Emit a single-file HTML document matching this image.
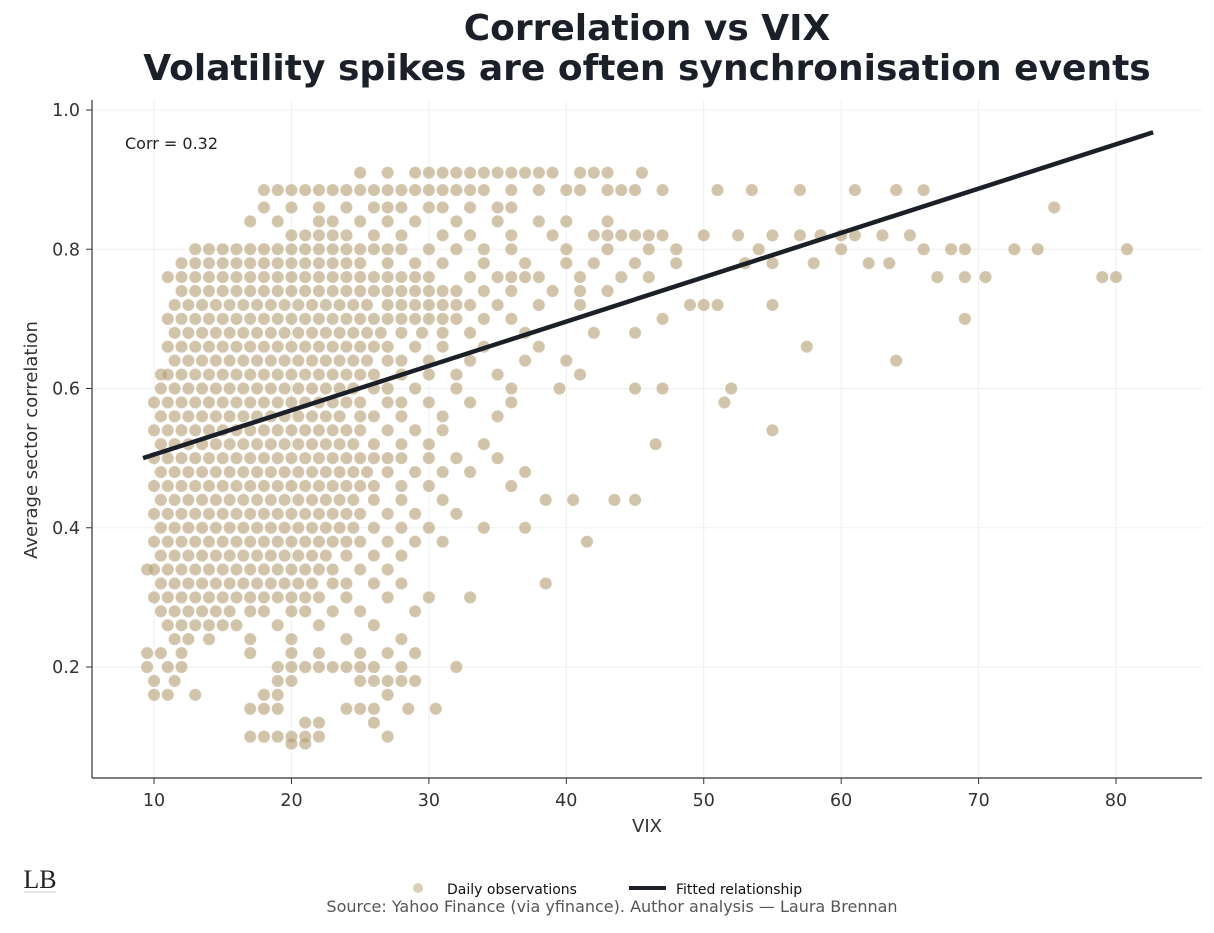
<!DOCTYPE html>
<html><head><meta charset="utf-8"><style>
body{margin:0;background:#fff;width:1214px;height:928px;overflow:hidden;font-family:"Liberation Sans","DejaVu Sans",sans-serif}
</style></head><body>
<svg id="chart" width="1214" height="928" xmlns="http://www.w3.org/2000/svg" font-family="DejaVu Sans, Liberation Sans, sans-serif">
<text x="647" y="40" text-anchor="middle" font-size="36" font-weight="bold" fill="#1b1f27">Correlation vs VIX</text>
<text x="647" y="80" text-anchor="middle" font-size="36" font-weight="bold" fill="#1b1f27">Volatility spikes are often synchronisation events</text>
<g id="grid"></g>
<g id="points"></g>
<g id="fit"></g>
<line x1="92" y1="100" x2="92" y2="778" stroke="#333" stroke-width="1.2"/>
<line x1="92" y1="778" x2="1202" y2="778" stroke="#333" stroke-width="1.2"/>
<g id="xticks"></g>
<g id="yticks"></g>
<text x="647" y="832" text-anchor="middle" font-size="18" fill="#333">VIX</text>
<text transform="translate(37,440) rotate(-90)" text-anchor="middle" font-size="18" fill="#333">Average sector correlation</text>
<text x="125" y="149" font-size="16" fill="#222">Corr = 0.32</text>
<g>
<circle cx="418" cy="888" r="5" fill="#c2b08c" fill-opacity="0.6"/>
<text x="447" y="894" font-size="14" fill="#111">Daily observations</text>
<line x1="629" y1="888" x2="666" y2="888" stroke="#1b1f27" stroke-width="4"/>
<text x="676" y="894" font-size="14" fill="#111">Fitted relationship</text>
</g>
<text x="612" y="912" text-anchor="middle" font-size="16" fill="#555">Source: Yahoo Finance (via yfinance). Author analysis — Laura Brennan</text>
<text x="40" y="888" text-anchor="middle" font-size="26" font-family="Liberation Serif, serif" fill="#222">LB</text>
<line x1="24" y1="892" x2="56" y2="892" stroke="#999" stroke-width="0.6"/>
</svg>
<script>
const xTicks=[10,20,30,40,50,60,70,80];
const yTicks=[0.2,0.4,0.6,0.8,1.0];
const fitStart=[9.2,0.50];
const fitEnd=[82.7,0.968];
const corrLevels=[0.91,0.885,0.86,0.84,0.82,0.80,0.78,0.76,0.74,0.72,0.70,0.68,0.66,0.64,0.62,0.60,0.58,0.56,0.54,0.52,0.50,0.48,0.46,0.44,0.42,0.40,0.38,0.36,0.34,0.32,0.30,0.28,0.26,0.24,0.22,0.20,0.18,0.16,0.14,0.12,0.10,0.09];
const vixByLevel=[
[25,27,29,30,31,32,33,34,35,36,37,38,39,41,42,43,45.5],
[18,19,20,21,22,23,24,25,26,27,28,29,30,31,32,33,34,36,38,40,41,43,44,45,47,51,53.5,57,61,64,66],
[18,20,22,24,26,27,28,30,31,33,35,36,75.5],
[17,19,22,23,25,27,29,32,35,38,40,43],
[20,21,22,23,24,26,28,31,33,36,39,42,43,44,45,46,47,50,52.5,55,57,58.5,60,61,63,65],
[13,14,15,16,17,18,19,20,21,22,23,24,25,26,27,28,30,32,34,36,40,43,46,48,54,60,66,68,69,72.6,74.3,80.8],
[12,13,14,15,16,17,18,19,20,21,22,23,24,25,27,29,31,34,37,40,42,45,48,53,55,58,62,63.5],
[11,12,13,14,15,16,17,18,19,20,21,22,23,24,25,26,27,28,29,30,33,35,36,37,38,41,44,46,67,69,70.5,79,80],
[12,13,14,15,16,17,18,19,20,21,22,23,24,25,26,27,28,29,30,31,32,34,36,39,41,43],
[11.5,12.5,13.5,14.5,15.5,16.5,17.5,18.5,19.5,20.5,21.5,22.5,23.5,24.5,25.5,27,28,29,30,31,32,33,35,38,41,49,50,51,55],
[11,12,13,14,15,16,17,18,19,20,21,22,23,24,25,26,27,28,29,30,31,32,34,36,47,69],
[11.5,12.5,13.5,14.5,15.5,16.5,17.5,18.5,19.5,20.5,21.5,22.5,23.5,24.5,25.5,26.5,28,29.5,31,33,37,42,45],
[11,12,13,14,15,16,17,18,19,20,21,22,23,24,25,26,27,29,31,34,38,57.5],
[11.5,12.5,13.5,14.5,15.5,16.5,17.5,18.5,19.5,20.5,21.5,22.5,23.5,24.5,25.5,27,28,30,33,37,40,64],
[10.5,11,12,13,14,15,16,17,18,19,20,21,22,23,24,25,26,28,30,32,35,41],
[10.5,11.5,12.5,13.5,14.5,15.5,16.5,17.5,18.5,19.5,20.5,21.5,22.5,23.5,24.5,26,27,29,32,36,39.5,45,47,52],
[10,11,12,13,14,15,16,17,18,19,20,21,22,23,24,25,27,28,30,33,36,51.5],
[10.5,11.5,12.5,13.5,14.5,15.5,16.5,17.5,18.5,19.5,20.5,21.5,22.5,23.5,25,26,28,31,35],
[10,11,12,13,14,15,16,17,18,19,20,21,22,23,24,25,27,29,31,55],
[10.5,11.5,12.5,13.5,14.5,15.5,16.5,17.5,18.5,19.5,20.5,21.5,22.5,23.5,24.5,26,28,30,34,46.5],
[10,11,12,13,14,15,16,17,18,19,20,21,22,23,24,25,26,27,28,30,32,35],
[10.5,11.5,12.5,13.5,14.5,15.5,16.5,17.5,18.5,19.5,20.5,21.5,22.5,23.5,24.5,25.5,27,29,31,33,37],
[10,11,12,13,14,15,16,17,18,19,20,21,22,23,24,25,26,28,30,36],
[10.5,11.5,12.5,13.5,14.5,15.5,16.5,17.5,18.5,19.5,20.5,21.5,22.5,23.5,24.5,26,28,31,38.5,40.5,43.5,45],
[10,11,12,13,14,15,16,17,18,19,20,21,22,23,24,25,27,29,32],
[10.5,11.5,12.5,13.5,14.5,15.5,16.5,17.5,18.5,19.5,20.5,21.5,22.5,23.5,24.5,26,28,30,34,37],
[10,11,12,13,14,15,16,17,18,19,20,21,22,23,24,25,27,29,31,41.5],
[10.5,11.5,12.5,13.5,14.5,15.5,16.5,17.5,18.5,19.5,20.5,21.5,22.5,24,26,28],
[9.5,10,11,12,13,14,15,16,17,18,19,20,21,22,23,25,27],
[10.5,11.5,12.5,13.5,14.5,15.5,16.5,17.5,18.5,19.5,20.5,21.5,23,24,26,28,38.5],
[10,11,12,13,14,15,16,17,18,19,20,21,22,24,27,30,33],
[10.5,11.5,12.5,13.5,14.5,15.5,17,18,20,21,23,25,29],
[11,12,13,14,15,16,19,22,26],
[11.5,12.5,14,17,20,24,28],
[9.5,10.5,12,17,20,22,25,27,29],
[9.5,11,12,19,20,21,22,23,24,25,26,28,32],
[10,11.5,19,20,25,26,27,28,29],
[10,11,13,18,19,27],
[17,18,19,24,25,26,28.5,30.5],
[21,22,26],
[17,18,19,20,21,22,27],
[20,21]
];
const vix=[],corr=[];
vixByLevel.forEach((row,i)=>row.forEach(v=>{vix.push(v);corr.push(corrLevels[i]);}));

const NS="http://www.w3.org/2000/svg";
const X=v=>16.6+v*13.743;
const Y=v=>110+(1-v)*696.25;
function mk(tag,attrs,parent){const e=document.createElementNS(NS,tag);for(const k in attrs)e.setAttribute(k,attrs[k]);parent.appendChild(e);return e;}
const grid=document.getElementById('grid');
xTicks.forEach(t=>{
  const l=mk('line',{x1:X(t),x2:X(t),y1:100,y2:778,stroke:'#efefef','stroke-width':1},grid);
  
  
  const tk=mk('line',{x1:X(t),x2:X(t),y1:778,y2:784,stroke:'#333'},document.getElementById('xticks'));
  
  
  const tx=mk('text',{x:X(t),y:806,'text-anchor':'middle','font-size':17.5,fill:'#333'},document.getElementById('xticks'));
  tx.textContent=t;
  
  
});
yTicks.forEach(t=>{
  const l=mk('line',{x1:92,x2:1202,y1:Y(t),y2:Y(t),stroke:'#efefef','stroke-width':1},grid);
  
  
  const tk=mk('line',{x1:86,x2:92,y1:Y(t),y2:Y(t),stroke:'#333'},document.getElementById('yticks'));
  
  
  const tx=mk('text',{x:80,y:Y(t)+6,'text-anchor':'end','font-size':17.5,fill:'#333'},document.getElementById('yticks'));
  tx.textContent=t.toFixed(1);
  
  
});
const pts=document.getElementById('points');
for(let i=0;i<vix.length;i++){
  const c=mk('circle',{cx:X(vix[i]),cy:Y(corr[i]),r:5.8,fill:'#b29d73','fill-opacity':0.6,stroke:'#d8ccb4','stroke-width':0.6},pts);
  
  
}
const fl=mk('line',{x1:X(fitStart[0]),y1:Y(fitStart[1]),x2:X(fitEnd[0]),y2:Y(fitEnd[1]),stroke:'#1b1f27','stroke-width':4.5},document.getElementById('fit'));


</script>
</body></html>
